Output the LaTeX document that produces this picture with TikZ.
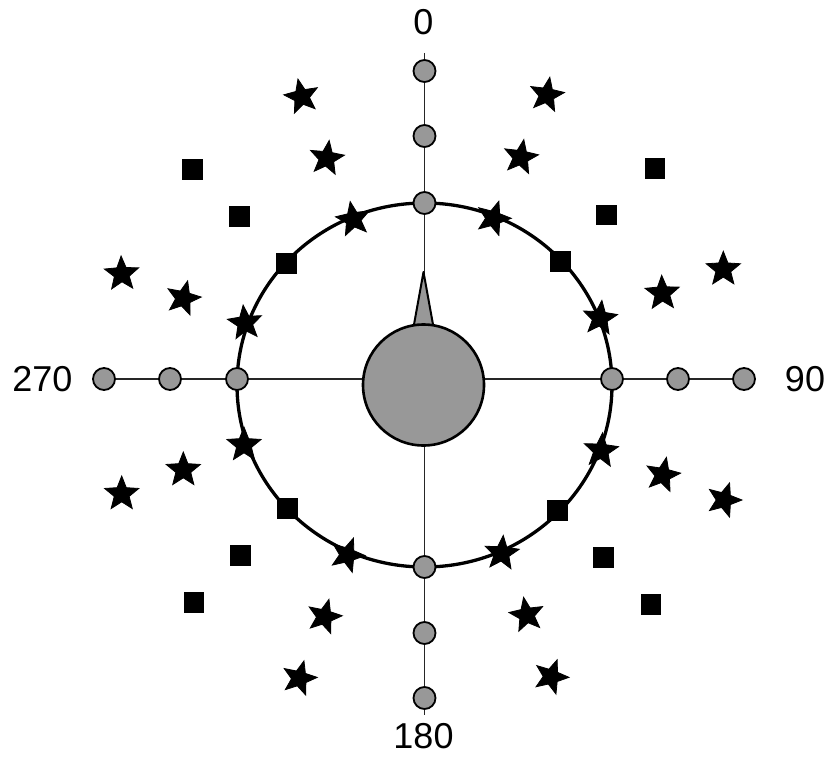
\documentclass[tikz,border=0pt]{standalone}
\usepackage{fontspec}
\setmainfont{Liberation Sans}
\usetikzlibrary{shapes.geometric,backgrounds}
\definecolor{dotgray}{RGB}{152,152,152}
\tikzset{
  axisline/.style={line width=1.7pt, draw=black!85},
  ringline/.style={line width=3.3pt, draw=black},
  dot/.style={circle, draw=black, line width=1.8pt, fill=dotgray, minimum size=22pt, inner sep=0pt},
  hubdot/.style={circle, draw=black, line width=2.6pt, fill=dotgray, minimum size=121pt, inner sep=0pt},
  spikefill/.style={draw=black, line width=2pt, fill=dotgray, line join=round},
  starmark/.style={star, star points=5, star point ratio=2.3, fill=black, draw=black, line width=0.8pt, minimum size=36pt, inner sep=0pt},
  sqmark/.style={rectangle, fill=black, minimum size=20.5pt, inner sep=0pt},
  lab/.style={font=\fontsize{36}{40}\selectfont, inner sep=0pt}
}
\begin{document}
\begin{tikzpicture}[x=1pt,y=-1pt]
\useasboundingbox (0,0) rectangle (829,757);
\coordinate (vtop) at (424.5,53);
\coordinate (vbot) at (424.5,715);
\coordinate (C) at (424.5,385);
% axis dots
\node[dot] (n1) at (424.5,71) {};
\node[dot] (n2) at (424.5,136) {};
\node[dot] (n3) at (424.5,203) {};
\node[dot] (s1) at (424.5,567) {};
\node[dot] (s2) at (424.5,633) {};
\node[dot] (s3) at (424.5,698) {};
\node[dot] (w1) at (104,379) {};
\node[dot] (w2) at (170,379) {};
\node[dot] (w3) at (237,379) {};
\node[dot] (e1) at (612,379) {};
\node[dot] (e2) at (678,379) {};
\node[dot] (e3) at (744,379) {};
% squares
\node[sqmark] (q1) at (192.7,169.3) {};
\node[sqmark] (q2) at (239.3,216.7) {};
\node[sqmark] (q3) at (286.7,263.3) {};
\node[sqmark] (q4) at (655,168.3) {};
\node[sqmark] (q5) at (606.7,215) {};
\node[sqmark] (q6) at (560.7,261.7) {};
\node[sqmark] (q7) at (287.3,508.3) {};
\node[sqmark] (q8) at (240.7,555.7) {};
\node[sqmark] (q9) at (194,602.7) {};
\node[sqmark] (q10) at (557.3,510.7) {};
\node[sqmark] (q11) at (603.3,557.7) {};
\node[sqmark] (q12) at (651,604.3) {};
% stars
\node[starmark, shape border rotate=12] (t1) at (301.7,96.7) {};
\node[starmark, shape border rotate=-8] (t2) at (326.7,158.3) {};
\node[starmark, shape border rotate=10] (t3) at (353.3,219.3) {};
\node[starmark, shape border rotate=2] (t4) at (121.7,274) {};
\node[starmark, shape border rotate=-14] (t5) at (183.3,298.3) {};
\node[starmark, shape border rotate=6] (t6) at (245,323) {};
\node[starmark, shape border rotate=-10] (t7) at (546.7,95) {};
\node[starmark, shape border rotate=-10] (t8) at (520.7,157.3) {};
\node[starmark, shape border rotate=-18] (t9) at (493.3,218.3) {};
\node[starmark, shape border rotate=0] (t10) at (723.3,269.3) {};
\node[starmark, shape border rotate=2] (t11) at (662.3,293.3) {};
\node[starmark, shape border rotate=-6] (t12) at (600,318.3) {};
\node[starmark, shape border rotate=0] (t13) at (244,445) {};
\node[starmark, shape border rotate=0] (t14) at (183.3,470) {};
\node[starmark, shape border rotate=0] (t15) at (121.7,494) {};
\node[starmark, shape border rotate=-20] (t16) at (347.3,555) {};
\node[starmark, shape border rotate=-15] (t17) at (324.3,616.7) {};
\node[starmark, shape border rotate=-15] (t18) at (299.3,678.3) {};
\node[starmark, shape border rotate=-5] (t19) at (601,450.7) {};
\node[starmark, shape border rotate=-12] (t20) at (662.7,475) {};
\node[starmark, shape border rotate=-18] (t21) at (724,500) {};
\node[starmark, shape border rotate=-5] (t22) at (501.7,553.3) {};
\node[starmark, shape border rotate=10] (t23) at (526.7,615) {};
\node[starmark, shape border rotate=-20] (t24) at (551,676.7) {};
% lines and ring behind the marks
\begin{pgfonlayer}{background}
\draw[axisline] (vtop) -- (vbot);
\draw[axisline] (w1.center) -- (e3.center);
\draw[ringline] (C) ellipse [x radius=187.5, y radius=182];
\end{pgfonlayer}
% spike and hub
\coordinate (spk) at (423.5,272);
\coordinate (spl) at (413,330);
\coordinate (spr) at (434,330);
\draw[spikefill] (spl) -- (spk) -- (spr) -- cycle;
\node[hubdot] (hub) at (423.5,385) {};
% labels
\node[lab] (l0) at (423.5,22) {0};
\node[lab] (l90) at (805,379) {90};
\node[lab] (l180) at (423.5,736) {180};
\node[lab] (l270) at (42.5,379) {270};
\end{tikzpicture}
\end{document}
